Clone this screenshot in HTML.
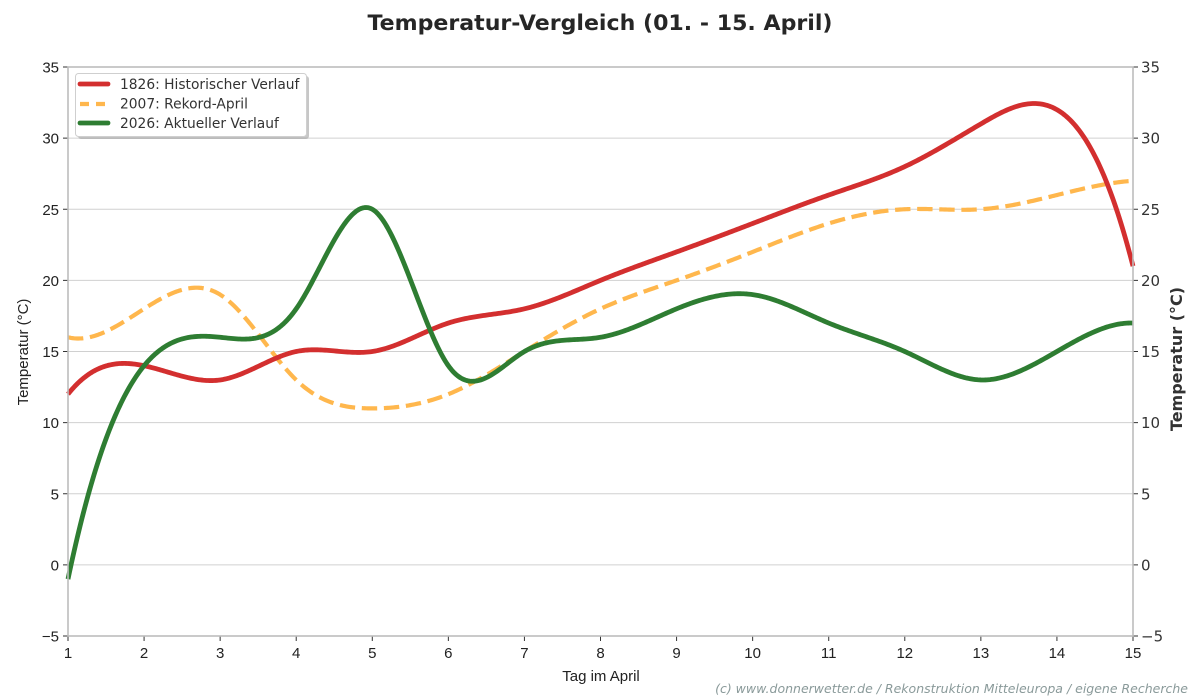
<!DOCTYPE html>
<html><head><meta charset="utf-8"><style>
html,body{margin:0;padding:0;background:#fff;}
svg{display:block;}
</style></head><body>
<svg id="c" width="1200" height="700" xmlns="http://www.w3.org/2000/svg">
<rect width="1200" height="700" fill="#fff"/>
<text x="600" y="30" text-anchor="middle" font-family="DejaVu Sans, sans-serif" font-weight="bold" font-size="21" fill="#262626" textLength="465" lengthAdjust="spacingAndGlyphs">Temperatur-Vergleich (01. - 15. April)</text>
<g id="grid" stroke="#d0d0d0" stroke-width="1"></g>
<g id="series" fill="none" stroke-linejoin="round"></g>
<g id="axes"></g>
<g id="labels"></g>
<!-- legend -->
<rect x="78" y="76" width="231" height="63" rx="3" fill="#999" opacity="0.55"/>
<rect x="75.5" y="73.5" width="231" height="63" rx="3" fill="#fff" stroke="#cfcfcf" stroke-width="1"/>
<line x1="80" y1="84" x2="108" y2="84" stroke="#d32f2f" stroke-width="4.8" stroke-linecap="round"/>
<line x1="80" y1="104" x2="108" y2="104" stroke="#ffb74d" stroke-width="4.2" stroke-dasharray="9 7"/>
<line x1="80" y1="123" x2="108" y2="123" stroke="#2e7d32" stroke-width="4.8" stroke-linecap="round"/>
<g font-family="DejaVu Sans, sans-serif" font-size="13.8" fill="#333">
<text x="120" y="89">1826: Historischer Verlauf</text>
<text x="120" y="108.5">2007: Rekord-April</text>
<text x="120" y="128">2026: Aktueller Verlauf</text>
</g>
<text transform="translate(28,352) rotate(-90)" text-anchor="middle" font-family="Liberation Sans, sans-serif" font-size="15" fill="#222">Temperatur (°C)</text>
<text transform="translate(1182,359) rotate(-90)" text-anchor="middle" font-family="DejaVu Sans, sans-serif" font-weight="bold" font-size="16" fill="#333">Temperatur (°C)</text>
<text x="601" y="681" text-anchor="middle" font-family="Liberation Sans, sans-serif" font-size="15" fill="#222">Tag im April</text>
<text x="1188" y="693" text-anchor="end" font-family="DejaVu Sans, sans-serif" font-style="italic" font-size="12.5" fill="#8a9a9a">(c) www.donnerwetter.de / Rekonstruktion Mitteleuropa / eigene Recherche</text>
</svg>
<script>
(function(){
var NS="http://www.w3.org/2000/svg";
function el(tag,attrs,parent,txt){var e=document.createElementNS(NS,tag);for(var k in attrs)e.setAttribute(k,attrs[k]);if(txt!==undefined)e.textContent=txt;parent.appendChild(e);return e;}
var X0=68,X1=1133,Y0=67,Y1=636;
function X(d){return X0+(d-1)*(X1-X0)/14;}
function Y(v){return Y0+(35-v)*(Y1-Y0)/40;}
var grid=document.getElementById('grid'),axes=document.getElementById('axes'),labels=document.getElementById('labels');
for(var v=-5;v<=35;v+=5){
  if(v>-5&&v<35) el('line',{x1:X0,x2:X1,y1:Y(v),y2:Y(v)},grid);
  el('line',{x1:X0-5,x2:X0,y1:Y(v),y2:Y(v),stroke:'#333','stroke-width':1},axes);
  el('line',{x1:X1,x2:X1+5,y1:Y(v),y2:Y(v),stroke:'#333','stroke-width':1},axes);
  var s=(v<0?'\u2212':'')+Math.abs(v);
  el('text',{x:X0-9,y:Y(v)+5.5,'text-anchor':'end','font-family':'Liberation Sans, sans-serif','font-size':15,fill:'#222'},labels,s);
  el('text',{x:X1+8,y:Y(v)+5.5,'font-family':'DejaVu Sans, sans-serif','font-size':15,fill:'#333'},labels,s);
}
for(var d=1;d<=15;d++){
  el('line',{x1:X(d),x2:X(d),y1:Y1,y2:Y1+5,stroke:'#333','stroke-width':1},axes);
  el('text',{x:X(d),y:658,'text-anchor':'middle','font-family':'Liberation Sans, sans-serif','font-size':15,fill:'#222'},labels,''+d);
}
el('rect',{x:X0,y:Y0,width:X1-X0,height:Y1-Y0,fill:'none',stroke:'#bdbdbd','stroke-width':1.6},axes);

function spline(y){
  var n=y.length,A=[],b=[];
  for(var i=0;i<n;i++){A.push(new Array(n).fill(0));b.push(0);}
  A[0][0]=1;A[0][1]=-2;A[0][2]=1;
  for(var i=1;i<n-1;i++){A[i][i-1]=1;A[i][i]=4;A[i][i+1]=1;b[i]=6*(y[i-1]-2*y[i]+y[i+1]);}
  A[n-1][n-3]=1;A[n-1][n-2]=-2;A[n-1][n-1]=1;
  for(var c=0;c<n;c++){
    var p=c;for(var r=c+1;r<n;r++)if(Math.abs(A[r][c])>Math.abs(A[p][c]))p=r;
    var t=A[c];A[c]=A[p];A[p]=t;t=b[c];b[c]=b[p];b[p]=t;
    for(var r=0;r<n;r++){if(r===c)continue;var f=A[r][c]/A[c][c];if(f===0)continue;for(var k=c;k<n;k++)A[r][k]-=f*A[c][k];b[r]-=f*b[c];}
  }
  var M=[];for(var i=0;i<n;i++)M.push(b[i]/A[i][i]);
  return function(x){
    var i=Math.min(n-2,Math.max(0,Math.floor(x)));var t=x-i;
    var bb=(y[i+1]-y[i])-(2*M[i]+M[i+1])/6;
    return y[i]+bb*t+M[i]/2*t*t+(M[i+1]-M[i])/6*t*t*t;
  };
}
function path(y){
  var f=spline(y),s='';
  for(var k=0;k<=700;k++){var x=k/700*14;var px=X(1+x),py=Y(f(x));s+=(k?'L':'M')+px.toFixed(2)+','+py.toFixed(2);}
  return s;
}
var red=[12,14,13,15,15,17,18,20,22,24,26,28,31,32,21];
var ora=[16,18,19,13,11,12,15,18,20,22,24,25,25,26,27];
var grn=[-1,14,16,18,25,14,15,16,18,19,17,15,13,15,17];
var g=document.getElementById('series');
el('path',{d:path(ora),stroke:'#ffb74d','stroke-width':4.2,'stroke-dasharray':'15.4 6.7'},g);
el('path',{d:path(red),stroke:'#d32f2f','stroke-width':4.8},g);
el('path',{d:path(grn),stroke:'#2e7d32','stroke-width':4.8},g);
})();
</script>
</body></html>
